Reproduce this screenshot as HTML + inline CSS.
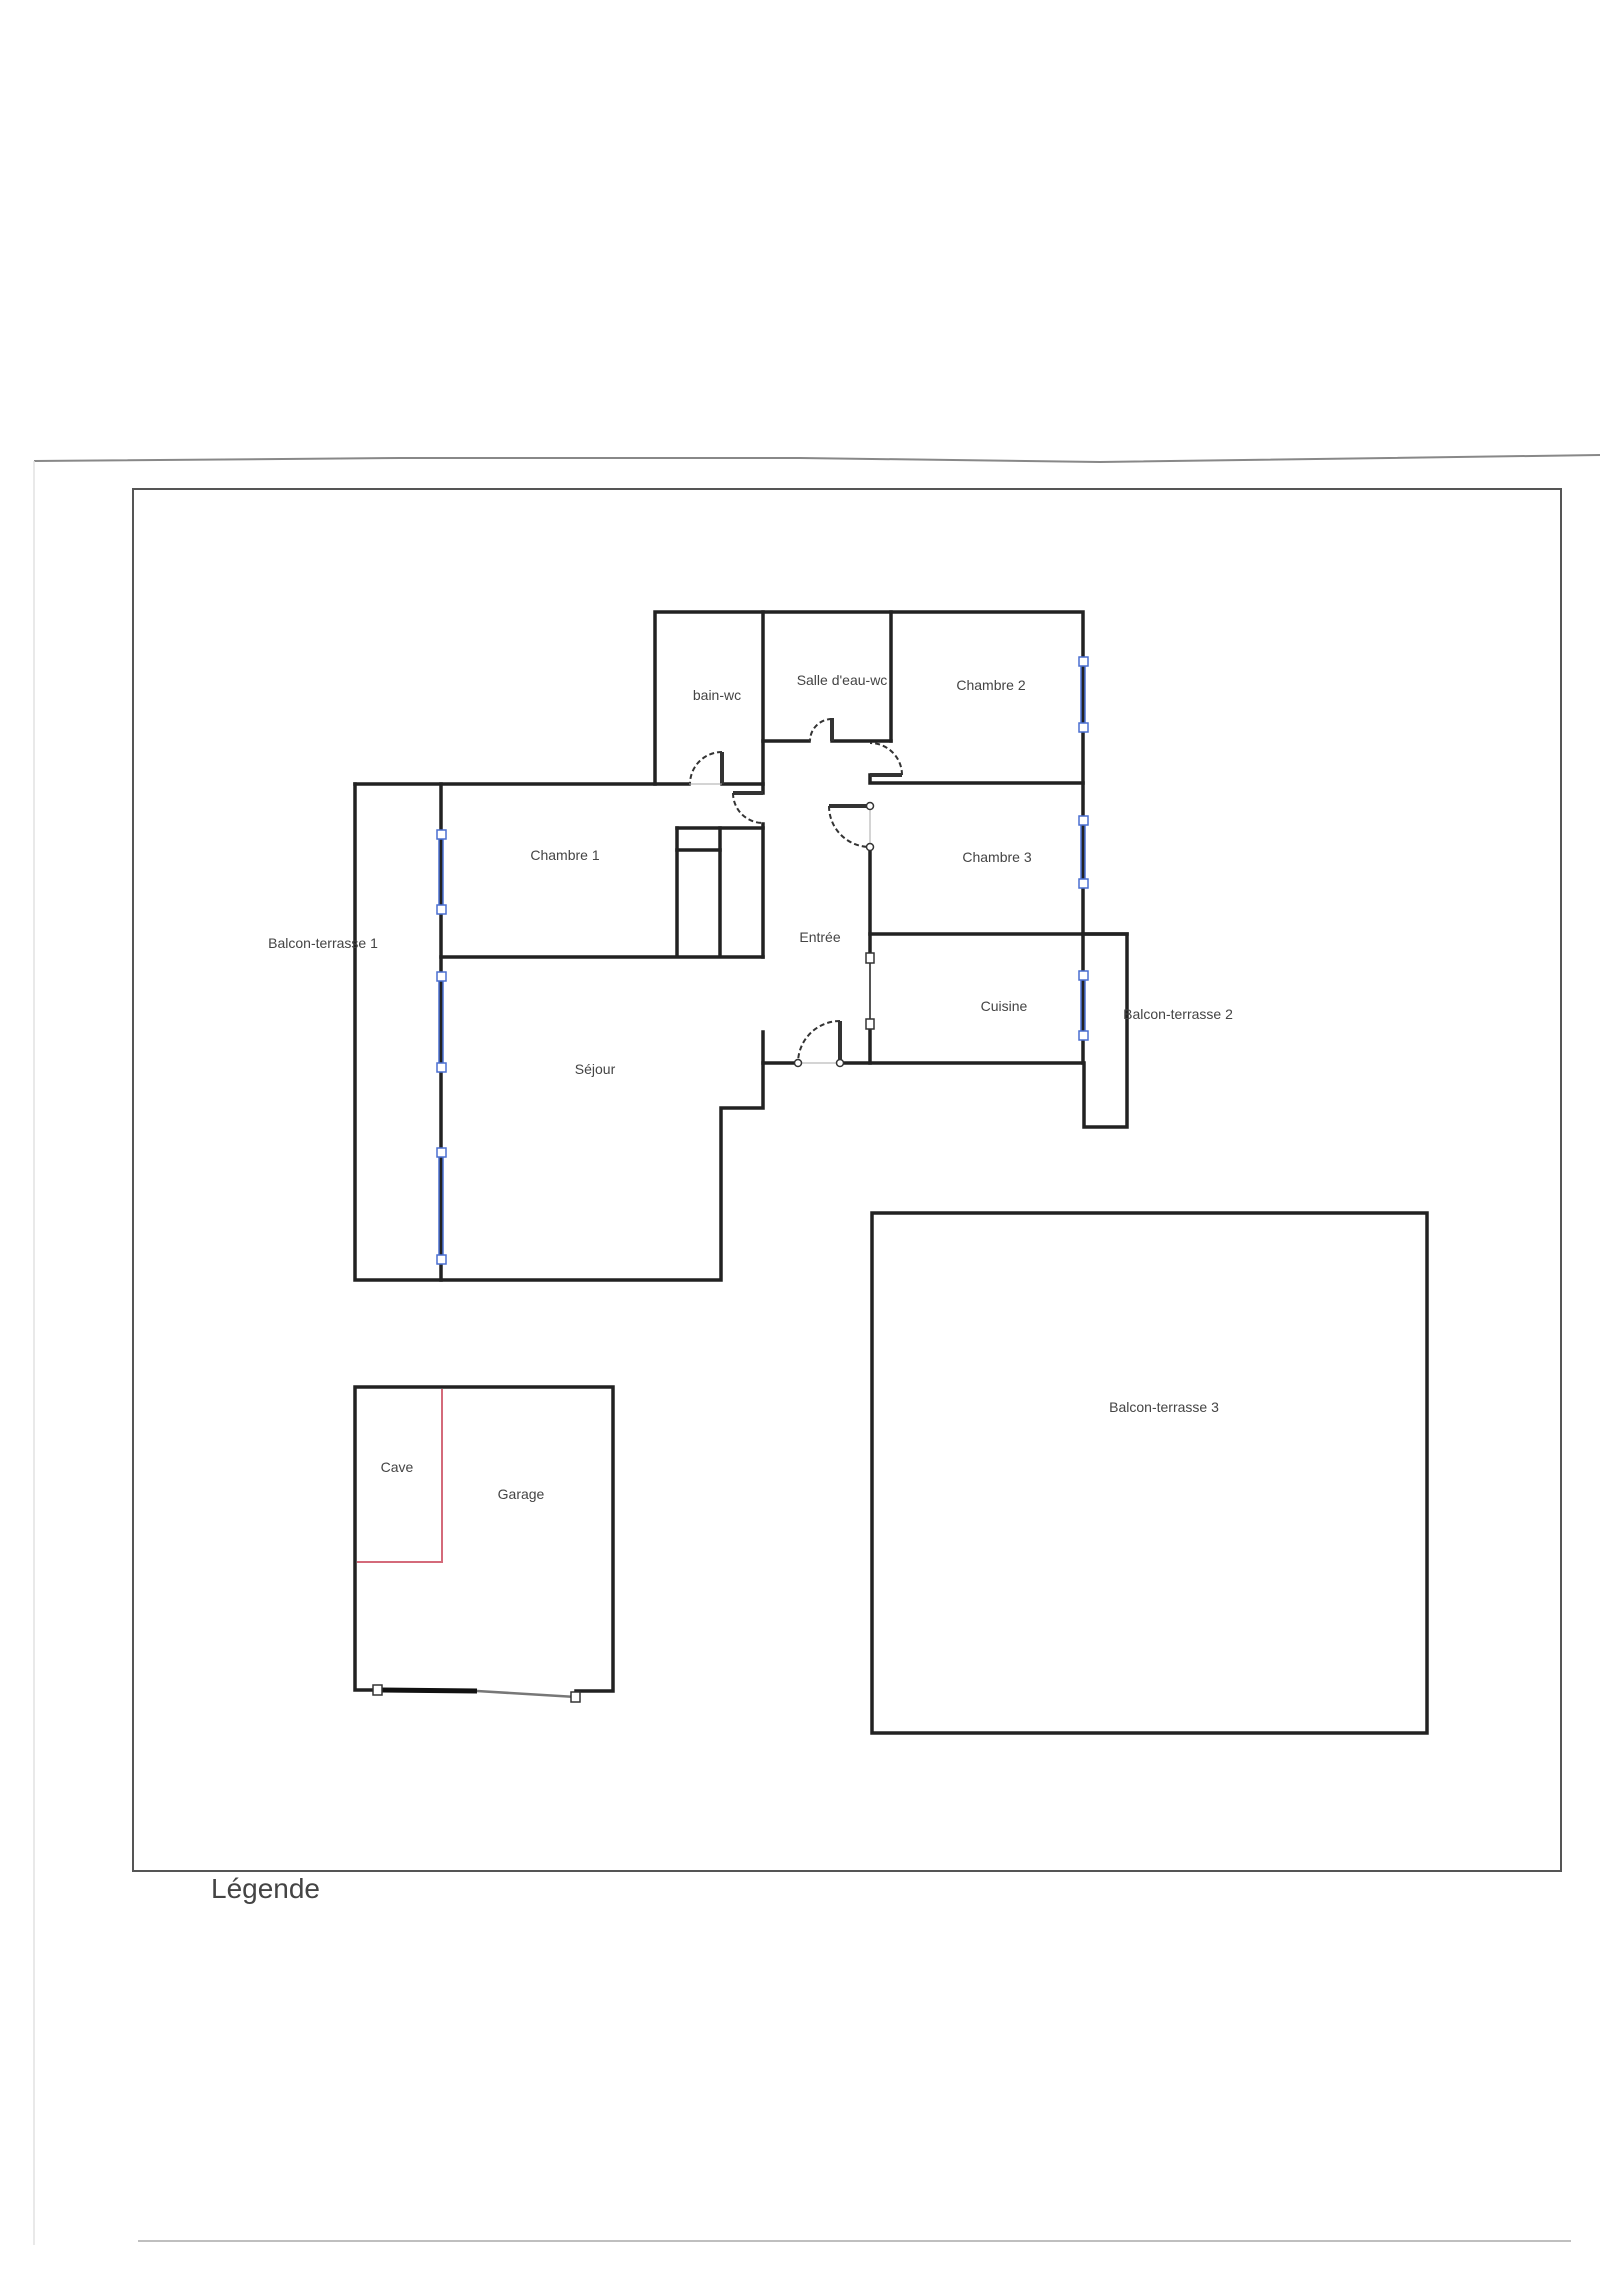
<!DOCTYPE html>
<html><head><meta charset="utf-8"><style>
html,body{margin:0;padding:0;background:#fff;}
svg{display:block;}
text{font-family:"Liberation Sans",sans-serif;fill:#444;}
</style></head><body>
<svg width="1600" height="2283" viewBox="0 0 1600 2283" xmlns="http://www.w3.org/2000/svg">
<rect width="1600" height="2283" fill="#fff"/>
<path d="M34 461 L400 458 L800 458 L1100 462 L1600 455" stroke="#888" stroke-width="2" fill="none"/>
<line x1="34" y1="461" x2="34" y2="2245" stroke="#e2e2e2" stroke-width="1.5"/>
<line x1="138" y1="2241" x2="1571" y2="2241" stroke="#aaa" stroke-width="1.5"/>
<rect x="133" y="489" width="1428" height="1382" fill="none" stroke="#555" stroke-width="2"/>
<text x="211" y="1898" font-size="28" fill="#444">Légende</text>

<g stroke="#222" stroke-width="3.5" fill="none" stroke-linecap="square">
<path d="M655 784 V612 H1083 V1063"/>
<line x1="763" y1="612" x2="763" y2="784"/>
<line x1="891" y1="612" x2="891" y2="741"/>
<path d="M763 741 H809 M832 741 H891"/>
<path d="M870 775 V783 H1083"/>
<path d="M355 784 H689 M722 784 H763 M763 784 V793"/>
<path d="M763 824 V957"/>
<line x1="677" y1="828" x2="763" y2="828"/>
<line x1="677" y1="828" x2="677" y2="956"/>
<line x1="720" y1="828" x2="720" y2="956"/>
<line x1="677" y1="850" x2="720" y2="850"/>
<line x1="441" y1="957" x2="763" y2="957"/>
<path d="M355 784 V1280 H721 V1108 H763 V1032"/>
<line x1="441" y1="784" x2="441" y2="1280"/>
<line x1="870" y1="847" x2="870" y2="953"/>
<line x1="870" y1="1029" x2="870" y2="1063"/>
<line x1="870" y1="934" x2="1127" y2="934"/>
<path d="M1083 934 H1127 V1127 H1084 V1063"/>
<path d="M763 1063 H798 M840 1063 H1083"/>
<rect x="872" y="1213" width="555" height="520"/>
<path d="M378 1690 H355 V1387 H613 V1691 H576"/>
</g>
<g stroke="#333" stroke-width="4">
<line x1="722" y1="752" x2="722" y2="784"/>
<line x1="733" y1="793" x2="763" y2="793"/>
<line x1="832" y1="718" x2="832" y2="741"/>
<line x1="870" y1="775" x2="902" y2="775"/>
<line x1="829" y1="806" x2="870" y2="806"/>
<line x1="840" y1="1021" x2="840" y2="1063"/>
</g>
<g stroke="#333" stroke-width="2" fill="none" stroke-dasharray="5,3">
<path d="M722 752 A32 32 0 0 0 690 784"/>
<path d="M733 793 A30 30 0 0 0 763 823"/>
<path d="M832 719 A22 22 0 0 0 810 741"/>
<path d="M902 775 A32 32 0 0 0 870 743"/>
<path d="M829 806 A41 41 0 0 0 870 847"/>
<path d="M840 1021 A42 42 0 0 0 798 1063"/>
</g>
<g stroke="#aaa" stroke-width="1">
<line x1="689" y1="784" x2="722" y2="784"/>
<line x1="798" y1="1063" x2="840" y2="1063"/>
<line x1="870" y1="806" x2="870" y2="847"/>
</g>
<g fill="#fff" stroke="#333" stroke-width="1.5">
<circle cx="870" cy="806" r="3.5"/><circle cx="870" cy="847" r="3.5"/>
<circle cx="798" cy="1063" r="3.5"/><circle cx="840" cy="1063" r="3.5"/>
</g>
<line x1="870" y1="963" x2="870" y2="1019" stroke="#555" stroke-width="2"/>
<g fill="#fff" stroke="#333" stroke-width="1.5">
<rect x="866" y="953" width="8" height="10"/><rect x="866" y="1019" width="8" height="10"/>
</g>
<g stroke="#4a6fd0" stroke-width="1.5" fill="none">
<path d="M439 834 V909 M443 834 V909"/>
<path d="M439 976 V1067 M443 976 V1067"/>
<path d="M439 1152 V1259 M443 1152 V1259"/>
<path d="M1081 661 V727 M1085 661 V727"/>
<path d="M1081 820 V883 M1085 820 V883"/>
<path d="M1081 975 V1035 M1085 975 V1035"/>
</g>
<g fill="#fff" stroke="#4a6fd0" stroke-width="1.5">
<rect x="437" y="830" width="9" height="9"/><rect x="437" y="905" width="9" height="9"/>
<rect x="437" y="972" width="9" height="9"/><rect x="437" y="1063" width="9" height="9"/>
<rect x="437" y="1148" width="9" height="9"/><rect x="437" y="1255" width="9" height="9"/>
<rect x="1079" y="657" width="9" height="9"/><rect x="1079" y="723" width="9" height="9"/>
<rect x="1079" y="816" width="9" height="9"/><rect x="1079" y="879" width="9" height="9"/>
<rect x="1079" y="971" width="9" height="9"/><rect x="1079" y="1031" width="9" height="9"/>
</g>
<path d="M442 1389 V1562 H357" stroke="#d46a7a" stroke-width="2" fill="none"/>
<line x1="378" y1="1690" x2="477" y2="1691" stroke="#111" stroke-width="5"/>
<line x1="477" y1="1691" x2="576" y2="1697" stroke="#777" stroke-width="2.5"/>
<g fill="#fff" stroke="#333" stroke-width="1.5">
<rect x="373" y="1685" width="9" height="10"/><rect x="571" y="1692" width="9" height="10"/>
</g>
<g font-size="14" text-anchor="middle">
<text x="717" y="700">bain-wc</text>
<text x="842" y="685">Salle d'eau-wc</text>
<text x="991" y="690">Chambre 2</text>
<text x="565" y="860">Chambre 1</text>
<text x="997" y="862">Chambre 3</text>
<text x="820" y="942">Entrée</text>
<text x="1004" y="1011">Cuisine</text>
<text x="595" y="1074">Séjour</text>
<text x="323" y="948">Balcon-terrasse 1</text>
<text x="1178" y="1019">Balcon-terrasse 2</text>
<text x="1164" y="1412">Balcon-terrasse 3</text>
<text x="397" y="1472">Cave</text>
<text x="521" y="1499">Garage</text>
</g>
</svg>
</body></html>
